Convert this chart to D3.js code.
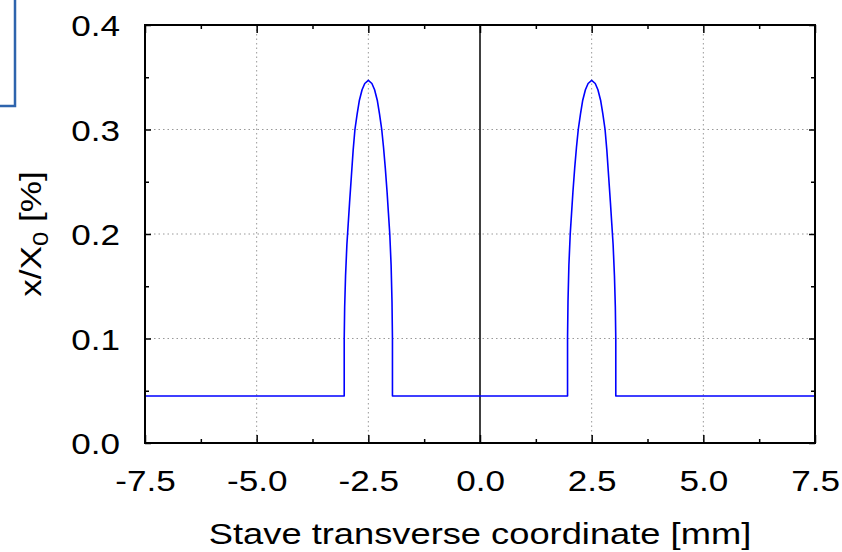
<!DOCTYPE html>
<html>
<head>
<meta charset="utf-8">
<script src="https://cdn.jsdelivr.net/npm/d3@7"></script>
<style>
  body { margin: 0; background: #fff; }
  svg { font-family: "Liberation Sans", Arial, sans-serif; }
</style>
</head>
<body>
<div id="chart"></div>
<script>
// position [mm] and x/X0 [%]
var xs = [-7.5, -3.04, -3.04, -3.03, -3.01, -2.98, -2.95, -2.92, -2.88, -2.84, -2.80, -2.75, -2.70, -2.64, -2.58, -2.50,
          -2.42, -2.36, -2.30, -2.25, -2.20, -2.16, -2.12, -2.08, -2.05, -2.02, -1.99, -1.97, -1.96, -1.96,
          1.96, 1.96, 1.97, 1.99, 2.02, 2.05, 2.08, 2.12, 2.16, 2.20, 2.25, 2.30, 2.36, 2.42, 2.50,
          2.58, 2.64, 2.70, 2.75, 2.80, 2.84, 2.88, 2.92, 2.95, 2.98, 3.01, 3.03, 3.04, 3.04, 7.5];
var ys = [0.045, 0.045, 0.10, 0.13, 0.16, 0.19, 0.21, 0.23, 0.255, 0.28, 0.30, 0.315, 0.328, 0.338, 0.344, 0.347,
          0.344, 0.338, 0.328, 0.315, 0.30, 0.283, 0.263, 0.24, 0.22, 0.20, 0.17, 0.135, 0.10, 0.045,
          0.045, 0.10, 0.135, 0.17, 0.20, 0.22, 0.24, 0.263, 0.283, 0.30, 0.315, 0.328, 0.338, 0.344, 0.347,
          0.344, 0.338, 0.328, 0.315, 0.30, 0.28, 0.255, 0.23, 0.21, 0.19, 0.16, 0.13, 0.10, 0.045, 0.045];
var xTicks = [-7.5, -5.0, -2.5, 0.0, 2.5, 5.0, 7.5];
var xMinor = [-6.25, -3.75, -1.25, 1.25, 3.75, 6.25];
var yTicks = [0.0, 0.1, 0.2, 0.3, 0.4];
var yMinor = [0.05, 0.15, 0.25, 0.35];

var W = 842, H = 552;
var margin = {top: 25, right: 27, bottom: 109, left: 145},
    width = W - margin.left - margin.right,
    height = H - margin.top - margin.bottom;

var fs = "30px";
var stretch = "scale(1.17,1)";

var root = d3.select("#chart").append("svg")
    .attr("width", W)
    .attr("height", H);

// piece of a slide box in the top left corner
root.append("path")
    .attr("d", "M15,0V106H0")
    .attr("fill", "none")
    .attr("stroke", "#2e64ad")
    .attr("stroke-width", 2.5);

var svg = root.append("g")
    .attr("transform", "translate(" + margin.left + "," + margin.top + ")");

var x = d3.scaleLinear().domain([-7.5, 7.5]).range([0, width]);
var y = d3.scaleLinear().domain([0, 0.4]).range([height, 0]);

// grid
svg.append("g").selectAll("line")
    .data(xTicks.filter(function(d) { return d !== 0 && Math.abs(d) < 7.5; }))
    .enter().append("line")
    .attr("x1", function(d) { return x(d); }).attr("x2", function(d) { return x(d); })
    .attr("y1", 0).attr("y2", height)
    .attr("stroke", "#999").attr("stroke-width", 1).attr("stroke-dasharray", "1.5,3");
svg.append("g").selectAll("line")
    .data(yTicks.filter(function(d) { return d > 0 && d < 0.4; }))
    .enter().append("line")
    .attr("y1", function(d) { return y(d); }).attr("y2", function(d) { return y(d); })
    .attr("x1", 0).attr("x2", width)
    .attr("stroke", "#999").attr("stroke-width", 1).attr("stroke-dasharray", "1.5,3");

// zero line
svg.append("line")
    .attr("x1", x(0)).attr("x2", x(0)).attr("y1", 0).attr("y2", height)
    .attr("stroke", "#000").attr("stroke-width", 1.5);

// curve
var pts = xs.map(function(d, i) { return [d, ys[i]]; });
var line = d3.line()
    .x(function(d) { return x(d[0]); })
    .y(function(d) { return y(d[1]); });
svg.append("path")
    .datum(pts)
    .attr("d", line)
    .attr("fill", "none")
    .attr("stroke", "#0000ff")
    .attr("stroke-width", 1.6)
    .attr("stroke-linejoin", "round");

// axes with ticks inward on all four sides
function styleAxis(g) {
  g.select(".domain").remove();
  g.selectAll(".tick line").attr("stroke", "#000").attr("stroke-width", 1.5);
}

svg.append("g")
    .attr("transform", "translate(0," + height + ")")
    .call(d3.axisBottom(x).tickValues(xTicks).tickSize(-8).tickPadding(27))
    .call(styleAxis)
    .selectAll("text").style("font-size", fs).attr("fill", "#000")
    .attr("transform", stretch)
    .text(function(d) { return d3.format(".1f")(d).replace("\u2212", "-"); });
svg.append("g")
    .attr("transform", "translate(0," + height + ")")
    .call(d3.axisBottom(x).tickValues(xMinor).tickSize(-4).tickFormat(""))
    .call(styleAxis);
svg.append("g")
    .call(d3.axisTop(x).tickValues(xTicks).tickSize(-8).tickFormat(""))
    .call(styleAxis);
svg.append("g")
    .call(d3.axisTop(x).tickValues(xMinor).tickSize(-4).tickFormat(""))
    .call(styleAxis);

svg.append("g")
    .call(d3.axisLeft(y).tickValues(yTicks).tickSize(-6).tickFormat(d3.format(".1f")))
    .call(styleAxis)
    .selectAll("text").style("font-size", fs).attr("fill", "#000")
    .attr("x", 0)
    .attr("transform", "translate(-25,1) " + stretch);
svg.append("g")
    .call(d3.axisLeft(y).tickValues(yMinor).tickSize(-4).tickFormat(""))
    .call(styleAxis);
svg.append("g")
    .attr("transform", "translate(" + width + ",0)")
    .call(d3.axisRight(y).tickValues(yTicks).tickSize(-6).tickFormat(""))
    .call(styleAxis);
svg.append("g")
    .attr("transform", "translate(" + width + ",0)")
    .call(d3.axisRight(y).tickValues(yMinor).tickSize(-4).tickFormat(""))
    .call(styleAxis);

// frame
svg.append("rect")
    .attr("width", width).attr("height", height)
    .attr("fill", "none").attr("stroke", "#000").attr("stroke-width", 2);

// titles
svg.append("text")
    .attr("transform", "translate(" + (width / 2) + "," + (height + 101) + ") scale(1.21,1)")
    .attr("text-anchor", "middle")
    .style("font-size", fs)
    .text("Stave transverse coordinate [mm]");

var yt = svg.append("text")
    .attr("transform", "translate(" + (-104) + "," + (height / 2) + ") rotate(-90) " + stretch)
    .attr("text-anchor", "middle")
    .style("font-size", fs);
yt.append("tspan").text("x/X");
yt.append("tspan").attr("dy", 7).style("font-size", "22px").text("0");
yt.append("tspan").attr("dy", -7).text(" [%]");
</script>
</body>
</html>
